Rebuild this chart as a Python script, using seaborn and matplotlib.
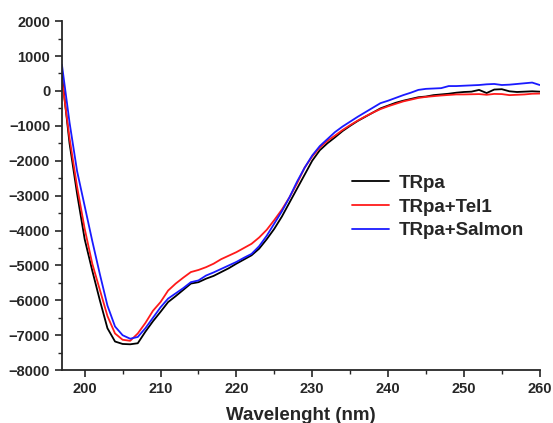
import numpy as np
import pandas as pd
import seaborn as sns
import matplotlib.pyplot as plt
from matplotlib.ticker import MultipleLocator

# CD spectra, wavelength in nm (1 nm steps)
wavelength = list(range(197, 261))

trpa = [450, -1500, -2950, -4250, -5150, -6000, -6800, -7180, -7250, -7260,
        -7230, -6900, -6600, -6330, -6050, -5880, -5700, -5520, -5480, -5380,
        -5300, -5190, -5080, -4950, -4830, -4710, -4520, -4250, -3950, -3600,
        -3200, -2800, -2400, -2000, -1700, -1500, -1330, -1150, -1000, -860,
        -740, -620, -500, -420, -340, -280, -230, -180, -160, -120,
        -100, -80, -50, -30, -20, 30, -60, 40, 50, -10,
        -30, -20, -10, -20]

trpa_tel1 = [330, -1350, -2750, -3950, -4950, -5700, -6450, -6950, -7130, -7160,
             -6950, -6650, -6300, -6050, -5720, -5520, -5350, -5190, -5130, -5050,
             -4950, -4820, -4720, -4620, -4500, -4380, -4200, -3980, -3700, -3400,
             -3050, -2650, -2200, -1880, -1620, -1430, -1280, -1120, -980, -850,
             -730, -620, -520, -440, -370, -300, -250, -200, -170, -150,
             -130, -115, -100, -100, -95, -90, -110, -85, -90, -120,
             -110, -100, -80, -75]

trpa_salmon = [750, -900, -2300, -3300, -4300, -5250, -6150, -6750, -7000, -7100,
               -7050, -6800, -6500, -6200, -5950, -5800, -5650, -5480, -5430, -5290,
               -5200, -5100, -5000, -4900, -4780, -4670, -4450, -4150, -3800, -3450,
               -3050, -2600, -2200, -1850, -1580, -1380, -1180, -1020, -880, -740,
               -610, -480, -350, -280, -200, -120, -50, 30, 60, 70,
               80, 140, 140, 150, 160, 170, 190, 200, 170, 180,
               200, 220, 240, 170]

series_names = ["TRpa", "TRpa+Tel1", "TRpa+Salmon"]
colors = ["black", "#ff1a1a", "#1a1aff"]

df = pd.DataFrame({
    "Wavelength": wavelength * 3,
    "CD": trpa + trpa_tel1 + trpa_salmon,
    "Sample": np.repeat(series_names, len(wavelength)),
})

sns.set_style("ticks")
plt.rcParams['font.family'] = ['Liberation Sans', 'DejaVu Sans']

fig = plt.figure(figsize=(5.53, 4.23), dpi=100)
ax = fig.add_axes([0.112, 0.125, 0.864, 0.825])

sns.lineplot(data=df, x="Wavelength", y="CD", hue="Sample",
             palette=dict(zip(series_names, colors)), linewidth=1.3, ax=ax)

ax.set_xlim(197, 260)
ax.set_ylim(-8000, 2000)
ax.xaxis.set_major_locator(MultipleLocator(10))
ax.xaxis.set_minor_locator(MultipleLocator(5))
ax.yaxis.set_major_locator(MultipleLocator(1000))
ax.yaxis.set_minor_locator(MultipleLocator(500))
ax.tick_params(which="major", direction="out", length=5, width=1.2, labelsize=10.5)
ax.tick_params(which="minor", direction="out", length=3, width=1.0)
for lab in ax.get_xticklabels() + ax.get_yticklabels():
    lab.set_fontweight("bold")

sns.despine(ax=ax)
for sp in ["left", "bottom"]:
    ax.spines[sp].set_linewidth(1.3)

ax.set_xlabel("Wavelenght (nm)", fontsize=13.5, fontweight="bold", labelpad=8)
ax.set_ylabel("")

ax.legend(title=None, frameon=False, loc="upper left",
          bbox_to_anchor=(0.607, 0.56), borderaxespad=0, borderpad=0,
          handlelength=2.0, handletextpad=0.5, labelspacing=0.35,
          prop={"weight": "bold", "size": 13.5})

fig.savefig("out.png", dpi=100)
